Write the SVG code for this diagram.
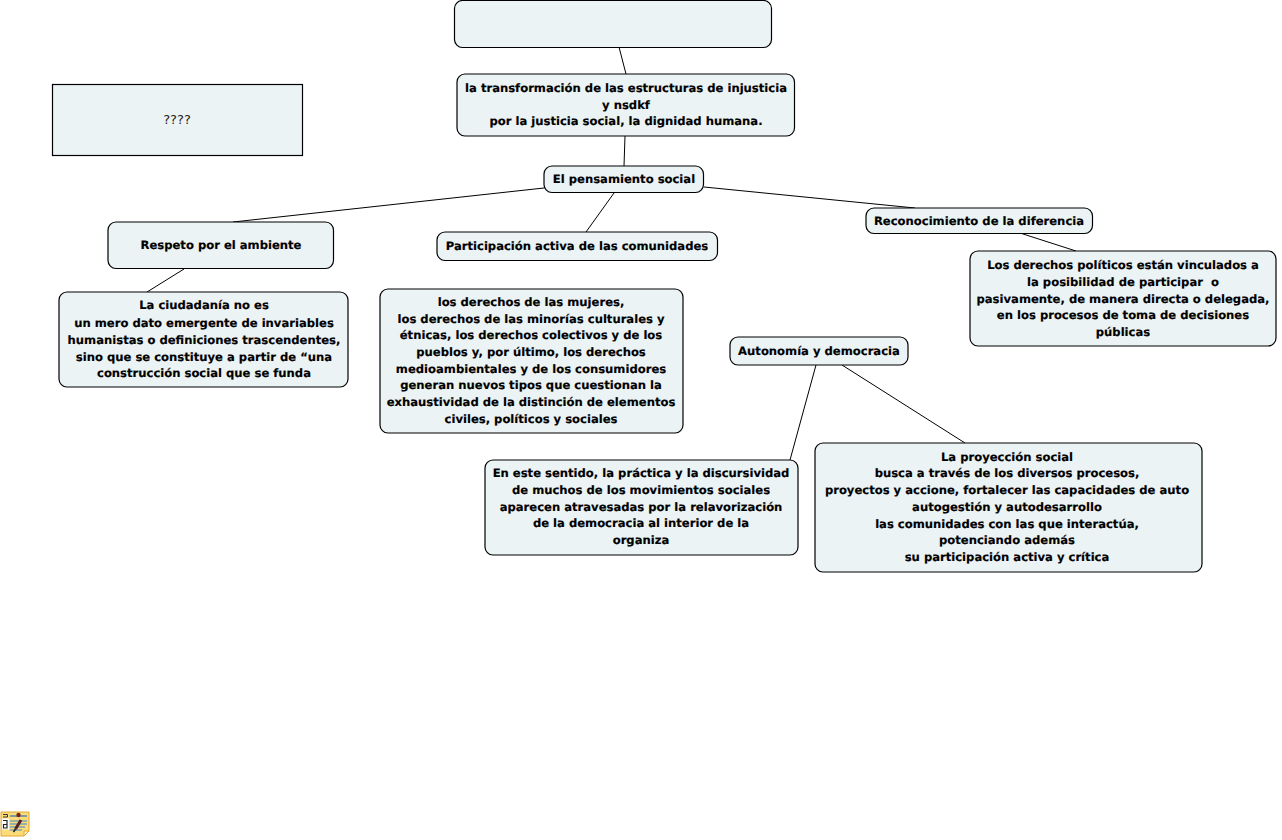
<svg xmlns="http://www.w3.org/2000/svg" width="1282" height="840" viewBox="0 0 1282 840">
<style>
.n{fill:#ecf3f5;stroke:#000;stroke-width:1.2}
.t{font-family:"DejaVu Sans",sans-serif;font-size:11.6px;font-weight:700;fill:#000;stroke:#000;stroke-width:.15;text-anchor:middle;text-rendering:geometricPrecision;white-space:pre}
.q{font-family:"DejaVu Sans",sans-serif;font-size:13px;fill:#222;text-anchor:middle}
.c{stroke:#000;stroke-width:1;fill:none}
</style>
<rect width="1282" height="840" fill="#fff"/>
<g id="connectors">
<path class="c" d="M619 47L626 74"/>
<path class="c" d="M625 136L624 166"/>
<path class="c" d="M544 188L233 222"/>
<path class="c" d="M614 193L586 232"/>
<path class="c" d="M704 187L915 208"/>
<path class="c" d="M184 269L147 292"/>
<path class="c" d="M1020 233L1076 251"/>
<path class="c" d="M816 365L790 460"/>
<path class="c" d="M842 365L965 443"/>
</g>
<g id="n0"><rect class="n" x="454.500" y="0.500" width="317" height="47" rx="8"/></g>
<g id="n1"><rect class="n" x="457" y="74" width="337.500" height="62" rx="8"/>
<text class="t" x="626" y="92">la transformación de las estructuras de injusticia</text>
<text class="t" x="626" y="109">y nsdkf</text>
<text class="t" x="626" y="125">por la justicia social, la dignidad humana.</text></g>
<g id="n2"><rect class="n" x="52.500" y="84.500" width="250" height="71"/>
<text class="q" x="177" y="124">????</text></g>
<g id="n3"><rect class="n" x="544" y="166" width="159.500" height="26.500" rx="8"/>
<text class="t" x="624" y="183">El pensamiento social</text></g>
<g id="n4"><rect class="n" x="108" y="222" width="225.500" height="46.500" rx="8"/>
<text class="t" x="221" y="249">Respeto por el ambiente</text></g>
<g id="n5"><rect class="n" x="437" y="232" width="280.500" height="28.500" rx="8"/>
<text class="t" x="577" y="250">Participación activa de las comunidades</text></g>
<g id="n6"><rect class="n" x="866" y="208" width="226.500" height="25.500" rx="8"/>
<text class="t" x="979" y="225">Reconocimiento de la diferencia</text></g>
<g id="n7"><rect class="n" x="59" y="292" width="289" height="95" rx="8"/>
<text class="t" x="204" y="309">La ciudadanía no es</text>
<text class="t" x="204" y="327">un mero dato emergente de invariables</text>
<text class="t" x="204" y="344">humanistas o definiciones trascendentes,</text>
<text class="t" x="204" y="361">sino que se constituye a partir de “una</text>
<text class="t" x="204" y="377">construcción social que se funda</text></g>
<g id="n8"><rect class="n" x="380" y="289" width="303" height="144" rx="8"/>
<text class="t" x="531" y="306">los derechos de las mujeres,</text>
<text class="t" x="531" y="323">los derechos de las minorías culturales y</text>
<text class="t" x="531" y="339">étnicas, los derechos colectivos y de los</text>
<text class="t" x="531" y="356">pueblos y, por último, los derechos</text>
<text class="t" x="531" y="373">medioambientales y de los consumidores</text>
<text class="t" x="531" y="389">generan nuevos tipos que cuestionan la</text>
<text class="t" x="531" y="406">exhaustividad de la distinción de elementos</text>
<text class="t" x="531" y="423">civiles, políticos y sociales</text></g>
<g id="n9"><rect class="n" x="970" y="251" width="306" height="95" rx="8"/>
<text class="t" x="1123" y="269">Los derechos políticos están vinculados a</text>
<text class="t" x="1123" y="286">la posibilidad de participar  o</text>
<text class="t" x="1123" y="303">pasivamente, de manera directa o delegada,</text>
<text class="t" x="1123" y="319">en los procesos de toma de decisiones</text>
<text class="t" x="1123" y="336">públicas</text></g>
<g id="n10"><rect class="n" x="730" y="337" width="178" height="28" rx="8"/>
<text class="t" x="819" y="355">Autonomía y democracia</text></g>
<g id="n11"><rect class="n" x="485" y="460" width="313" height="95" rx="8"/>
<text class="t" x="641" y="477">En este sentido, la práctica y la discursividad</text>
<text class="t" x="641" y="494">de muchos de los movimientos sociales</text>
<text class="t" x="641" y="511">aparecen atravesadas por la relavorización</text>
<text class="t" x="641" y="527">de la democracia al interior de la</text>
<text class="t" x="641" y="544">organiza</text></g>
<g id="n12"><rect class="n" x="815" y="443" width="387" height="129" rx="8"/>
<text class="t" x="1007" y="461">La proyección social</text>
<text class="t" x="1007" y="477">busca a través de los diversos procesos,</text>
<text class="t" x="1007" y="494">proyectos y accione, fortalecer las capacidades de auto</text>
<text class="t" x="1007" y="511">autogestión y autodesarrollo</text>
<text class="t" x="1007" y="528">las comunidades con las que interactúa,</text>
<text class="t" x="1007" y="544">potenciando además</text>
<text class="t" x="1007" y="561">su participación activa y crítica</text></g>
<g id="icon">
<path d="M1 812H29V831L24 836H1Z" fill="#fbdc78" stroke="#e0a830"/>
<path d="M24 836V831H29Z" fill="#fff4c0" stroke="#e0a830"/>
<path d="M10 816H27" stroke="#2f6fb8" stroke-width="1.200"/>
<path d="M10 821H27M10 824H27M10 827H25M10 830H22" stroke="#3a86d0" stroke-width="1.200"/>
<path d="M15.500 829L21 820" stroke="#5a2020" stroke-width="3"/>
<path d="M13.500 832L15.500 829" stroke="#222" stroke-width="1.500"/>
<circle cx="18.500" cy="815" r="2.200" fill="#7a2418"/>
<path d="M3 814.500H7.500V817H3" fill="none" stroke="#333" stroke-width="1"/>
<rect x="2" y="818.500" width="7" height="11" fill="#fff"/>
<path d="M3 820.500H7V828H3.500V824.500H7" fill="none" stroke="#222" stroke-width="1.200"/>
</g>
</svg>
